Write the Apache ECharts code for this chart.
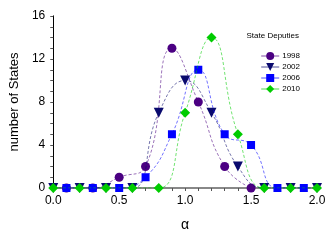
<!DOCTYPE html>
<html><head><meta charset="utf-8">
<script src="https://cdn.jsdelivr.net/npm/echarts@6/dist/echarts.min.js"></script>
<style>html,body{margin:0;padding:0;background:#fff}#c{width:332px;height:241px}</style>
</head><body><div id="c"></div>
<script>
var x1998 = [0.1,0.3,0.5,0.7,0.9,1.1,1.3,1.5];
var y1998 = [0,0,1,2,13,8,2,0];
var x2002 = [0.0,0.2,0.4,0.6,0.8,1.0,1.2,1.4,1.6,1.8,2.0];
var y2002 = [0,0,0,0,7,10,7,2,0,0,0];
var x2006 = [0.1,0.3,0.5,0.7,0.9,1.1,1.3,1.5,1.7,1.9];
var y2006 = [0,0,0,1,5,11,5,4,0,0];
var x2010 = [0.0,0.2,0.4,0.6,0.8,1.0,1.2,1.4,1.6,1.8,2.0];
var y2010 = [0,0,0,0,0,7,14,5,0,0,0];
var seriesNames = ['1998','2002','2006','2010'];
var xTicks = [0,0.5,1.0,1.5,2.0];
var yTicks = [0,4,8,12,16];

function pairs(xs, ys){ return xs.map(function(x,i){return [x, ys[i]];}); }
var font = 'Liberation Sans, Arial, sans-serif';
var colors = ['#4b0082','#0a0a6e','#0000ff','#00cc00'];
var symbols = ['circle','triangle','rect','diamond'];
var rot = [0,180,0,0];
var sizes = [9,10,8,10];
var datas = [pairs(x1998,y1998), pairs(x2002,y2002), pairs(x2006,y2006), pairs(x2010,y2010)];

var chart = echarts.init(document.getElementById('c'));
chart.setOption({
  animation:false,
  backgroundColor:'#fff',
  title:{text:'State Deputies', right:28, top:27, textStyle:{fontFamily:font, fontSize:8, fontWeight:'normal', color:'#000'}},
  legend:{orient:'vertical', right:27, top:47, itemWidth:18, itemHeight:10, itemGap:3,
    lineStyle:{type:'solid', width:1},
    textStyle:{fontFamily:font, fontSize:8, color:'#000', padding:[0,0,0,-2]},
    data:seriesNames},
  grid:{left:46, right:15, top:16, bottom:53},
  xAxis:[{type:'value', min:0, max:2, interval:0.5,
    axisLine:{lineStyle:{color:'#555', width:1}},
    axisTick:{show:true, length:3, lineStyle:{color:'#555'}},
    minorTick:{show:true, splitNumber:5, length:3, lineStyle:{color:'#555'}},
    splitLine:{show:false},
    axisLabel:{fontFamily:font, fontSize:12, color:'#000', margin:7, formatter:function(v){return v.toFixed(1);}},
    name:'α', nameLocation:'middle', nameGap:30, nameTextStyle:{fontFamily:font, fontSize:14, color:'#000'}},
   {type:'value', position:'top', min:0, max:2, axisLine:{show:true, lineStyle:{color:'#888', width:2}}, axisTick:{show:false}, axisLabel:{show:false}, splitLine:{show:false}}],
  yAxis:[{type:'value', min:0, max:16, interval:4,
    axisLine:{show:true, lineStyle:{color:'#555', width:1}},
    axisTick:{show:true, length:3, lineStyle:{color:'#555'}},
    minorTick:{show:true, splitNumber:4, length:3, lineStyle:{color:'#555'}},
    splitLine:{show:false},
    axisLabel:{fontFamily:font, fontSize:12, color:'#000', margin:8},
    name:'number of States', nameLocation:'middle', nameGap:30, nameTextStyle:{fontFamily:font, fontSize:13, color:'#000'}},
   {type:'value', position:'right', min:0, max:16, axisLine:{show:true, lineStyle:{color:'#000', width:1}}, axisTick:{show:false}, axisLabel:{show:false}, splitLine:{show:false}}],
  series: seriesNames.map(function(n,i){
    return {name:n, type:'line', data:datas[i], smooth:0.5, symbol:symbols[i], symbolRotate:rot[i],
      symbolSize:sizes[i], z: 2+i,
      itemStyle:{color:colors[i]},
      lineStyle:{color:colors[i], width:0.8, type:[3,2], opacity:0.7}};
  })
});
</script></body></html>
